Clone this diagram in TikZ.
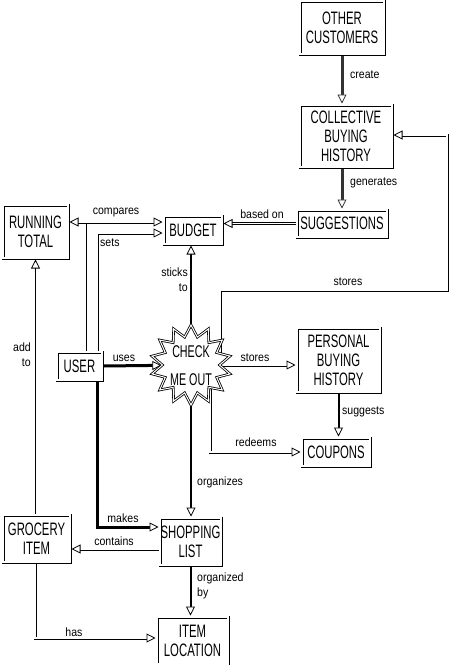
\documentclass[tikz,border=0pt]{standalone}
\usepackage{fontspec}
\setmainfont{Liberation Sans}
\newfontfamily\boxfont{Liberation Sans}[FakeStretch=0.63]
\newfontfamily\labfont{Liberation Sans}[FakeStretch=0.88]
\usetikzlibrary{arrows.meta,shapes.geometric}
\pgfdeclarelayer{background}
\pgfsetlayers{background,main}
\begin{document}
\begin{tikzpicture}[x=1pt,y=-1pt,
  conbox/.style={draw=black, line width=3pt, fill=white,
    postaction={draw=white, line width=1.3pt},
    inner sep=0pt, align=center, font=\boxfont\fontsize{18}{19}\selectfont},
  lab/.style={font=\labfont\fontsize{12}{13}\selectfont, inner sep=0pt},
  tip/.style={-{Triangle[length=9pt,width=9pt,fill=white,line width=0.8pt]}},
  heavy/.style={line width=3pt, draw=black!80},
  bold/.style={line width=3pt, draw=black},
  medium/.style={line width=2pt},
  thinl/.style={line width=1pt},
  dbl/.style={double, line width=0.8pt, double distance=1.4pt},
]
\useasboundingbox (0,0) rectangle (450,665);
% nodes
\node[conbox, minimum width=84pt, minimum height=53pt] (oc) at (342,27.5) {OTHER\\CUSTOMERS};
\node[conbox, minimum width=92pt, minimum height=62pt] (cbh) at (346,136) {COLLECTIVE\\BUYING\\HISTORY};
\node[conbox, minimum width=90pt, minimum height=27pt] (sug) at (342,223.5) {SUGGESTIONS};
\node[conbox, minimum width=58pt, minimum height=28pt] (bud) at (193,230) {BUDGET};
\node[conbox, minimum width=65pt, minimum height=53pt] (rt) at (35.5,231.5) {RUNNING\\TOTAL};
\node[conbox, minimum width=45pt, minimum height=28pt] (user) at (79.5,366) {USER};
\node[star, star points=14, star point ratio=1.4, minimum size=80pt, inner sep=0pt,
      draw, double, line width=0.8pt, double distance=1pt, fill=white] (star) at (191,365) {};
\node[align=center, inner sep=0pt, font=\boxfont\fontsize{17}{28}\selectfont] (startxt) at (191,366) {CHECK\\ME OUT};
\node[conbox, minimum width=83pt, minimum height=64pt] (pbh) at (338.5,360) {PERSONAL\\BUYING\\HISTORY};
\node[conbox, minimum width=68pt, minimum height=28pt] (coup) at (336,452) {COUPONS};
\node[conbox, minimum width=61pt, minimum height=47pt] (sl) at (190.5,541.5) {SHOPPING\\LIST};
\node[conbox, minimum width=67pt, minimum height=47pt] (gi) at (36.5,538.5) {GROCERY\\ITEM};
\node[conbox, minimum width=71pt, minimum height=47pt] (il) at (192.5,640.5) {ITEM\\LOCATION};
% helper coordinates
\coordinate (j1) at (85,222);
\coordinate (ks) at (97,233);
\coordinate (k1) at (220,290);
\coordinate (k2) at (447,290);
\coordinate (k3) at (447,135);
\coordinate (k4) at (210,452);
\coordinate (k5) at (97,527);
\coordinate (k6) at (100,549);
\coordinate (k7) at (35,638);
% labels
\node[lab, anchor=west] (lcreate) at (350,75) {create};
\node[lab, anchor=west] (lgen) at (350,183) {generates};
\node[lab] (lbased) at (262,214) {based on};
\node[lab] (lcomp) at (116,213) {compares};
\node[lab, anchor=west] (lsets) at (100,243) {sets};
\node[lab, align=right, anchor=north east, font=\labfont\fontsize{12}{15}\selectfont] (lsticks) at (188,268) {sticks\\to};
\node[lab] (lstores1) at (348,282) {stores};
\node[lab] (lstores2) at (255,358) {stores};
\node[lab] (luses) at (124,358) {uses};
\node[lab, align=right, anchor=north east, font=\labfont\fontsize{12}{15}\selectfont] (ladd) at (31,343) {add\\to};
\node[lab, anchor=west] (lsugg) at (342,412) {suggests};
\node[lab] (lred) at (256,442) {redeems};
\node[lab, anchor=west] (lorg) at (197,482) {organizes};
\node[lab] (lmakes) at (123,518) {makes};
\node[lab] (lcont) at (114,541) {contains};
\node[lab, align=left, anchor=north west, font=\labfont\fontsize{12}{15}\selectfont] (lorgby) at (197,573) {organized\\by};
\node[lab] (lhas) at (74,632) {has};
% connectors
\begin{pgfonlayer}{background}
\draw[heavy,tip] (oc.south) -- (oc.south |- cbh.north);
\draw[heavy,tip] (sug.north |- cbh.south) -- (sug.north);
\draw[dbl,tip] (sug.west) -- (sug.west -| bud.east);
\draw[dbl] (user.north -| j1) -- (j1);
\draw[dbl,tip] (j1) -- (j1 -| rt.east);
\draw[dbl,tip] (j1) -- (j1 -| bud.west);
\draw[dbl,tip] (user.north -| ks) -- (ks) -- (ks -| bud.west);
\draw[medium,tip] (star.center) -- (star.center |- bud.south);
\draw[dbl,tip] (star.center -| k1) -- (k1) -- (k2) -- (k3) -- (k3 -| cbh.east);
\draw[dbl,tip] (star.center) -- (star.center -| pbh.west);
\draw[dbl,tip] (star.center -| k4) -- (k4) -- (k4 -| coup.west);
\draw[medium,tip] (pbh.south) -- (pbh.south |- coup.north);
\draw[bold,tip] (user.east) -- (star);
\draw[medium,tip] (star.center) -- (star.center |- sl.north);
\draw[bold,tip] (user.south -| k5) -- (k5) -- (k5 -| sl.west);
\draw[dbl,tip] (k6 -| sl.west) -- (k6 -| gi.east);
\draw[thinl,tip] (gi.north -| rt.south) -- (rt.south);
\draw[dbl,tip] (gi.south -| k7) -- (k7) -- (k7 -| il.west);
\draw[medium,tip] (sl.south) -- (sl.south |- il.north);
\end{pgfonlayer}
\end{tikzpicture}
\end{document}
